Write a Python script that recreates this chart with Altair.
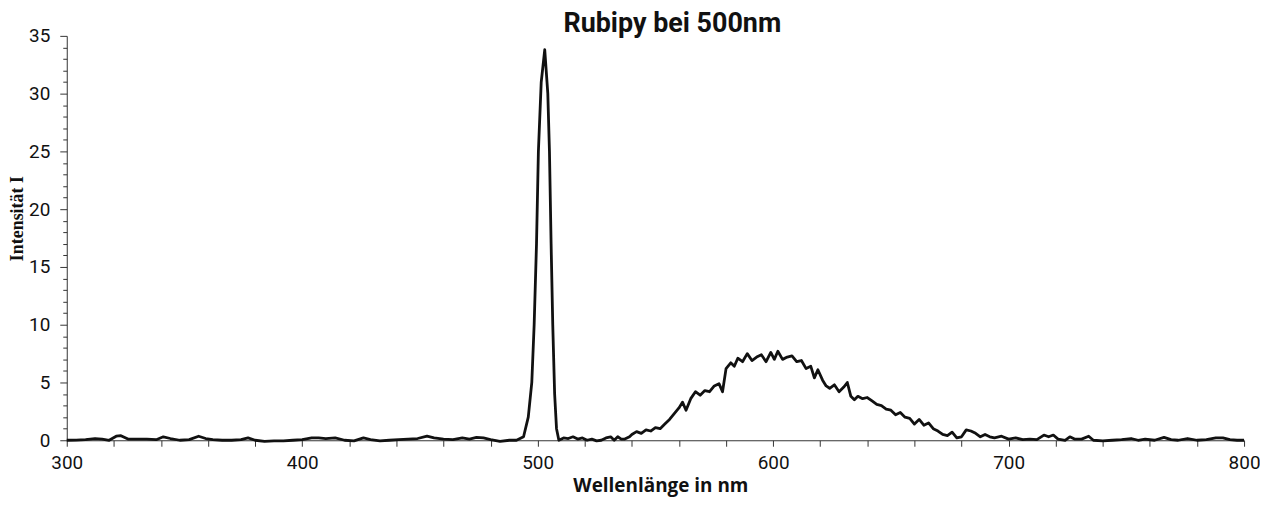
import altair as alt
import pandas as pd

# Wavelength (nm) and intensity
wavelength = [
    300, 304, 308, 312, 315, 318, 321, 323, 326, 330, 334, 338, 341, 344, 348,
    352, 356, 359, 362, 366, 370, 374, 377, 380, 384, 388, 392, 396, 400, 404,
    407, 410, 414, 418, 422, 426, 429, 433, 437, 441, 445, 449, 453, 456, 460,
    464, 468, 471, 474, 477, 480, 484, 488, 491,
    494, 496, 497.5, 498.5, 499.5, 500.3, 501.5, 503, 504.3, 505, 505.7,
    506.4, 507.2, 508, 509,
    511, 513, 515, 517, 519, 521, 523, 525, 527, 529, 531, 532.5, 534, 535.5,
    537, 539, 540, 542, 544, 546, 548, 550, 552, 554, 556, 558, 560, 561.5,
    563, 565, 567, 569, 571, 573, 575, 577, 578.5, 580, 582, 583.5, 585, 587,
    589, 591, 593, 595, 597, 599, 600.5, 602, 604, 606, 608, 610, 612, 614,
    616, 617.5, 619, 621, 622.5, 624, 626, 628, 630, 631.5, 633, 634.5, 636,
    638, 640, 642, 644, 646, 648, 650, 652, 654, 656, 658, 660, 662, 664, 666,
    668, 670, 672, 674, 676, 678, 680, 682, 684, 686, 688, 690, 692, 694, 697,
    700, 703, 706, 709, 712, 715, 717, 719, 721, 724, 726, 728, 731, 734, 736,
    740, 744, 748, 752, 755, 758, 762, 766, 769, 772, 776, 780, 784, 788, 791,
    794, 797, 800,
]
intensity = [
    0.0, 0.02, 0.05, 0.15, 0.1, 0.0, 0.35, 0.4, 0.1, 0.1, 0.1, 0.05, 0.3, 0.15, 0.0,
    0.05, 0.35, 0.15, 0.05, 0.0, 0.0, 0.05, 0.2, 0.0, -0.1, -0.05, -0.05, 0.0, 0.05, 0.2,
    0.2, 0.15, 0.2, 0.0, -0.05, 0.2, 0.05, -0.05, 0.0, 0.05, 0.1, 0.15, 0.35, 0.2, 0.1,
    0.05, 0.2, 0.1, 0.25, 0.2, 0.05, -0.1, 0.0, 0.0,
    0.3, 2.0, 5.0, 10.0, 17.0, 25.0, 31.0, 33.8, 30.0, 25.0, 17.0,
    10.0, 4.0, 1.0, 0.0,
    0.2, 0.15, 0.3, 0.1, 0.2, 0.0, 0.1, -0.05, 0.0, 0.2, 0.3, 0.0, 0.3, 0.1,
    0.1, 0.3, 0.5, 0.75, 0.6, 0.9, 0.8, 1.1, 1.0, 1.4, 1.8, 2.3, 2.8, 3.3,
    2.6, 3.6, 4.2, 3.9, 4.3, 4.2, 4.7, 4.9, 4.2, 6.2, 6.7, 6.4, 7.1, 6.8,
    7.5, 6.9, 7.2, 7.4, 6.8, 7.6, 7.0, 7.7, 7.0, 7.2, 7.3, 6.8, 6.9, 6.2,
    6.4, 5.4, 6.1, 5.2, 4.7, 4.5, 4.8, 4.2, 4.6, 5.0, 3.8, 3.5, 3.8,
    3.6, 3.7, 3.4, 3.1, 3.0, 2.7, 2.6, 2.2, 2.4, 2.0, 1.9, 1.4, 1.8, 1.3, 1.5,
    1.0, 0.8, 0.5, 0.4, 0.7, 0.2, 0.3, 0.9, 0.8, 0.6, 0.3, 0.5, 0.3, 0.2, 0.35,
    0.1, 0.2, 0.05, 0.1, 0.05, 0.45, 0.3, 0.45, 0.1, 0.0, 0.3, 0.1, 0.1, 0.35, 0.0,
    -0.05, 0.0, 0.05, 0.15, 0.0, 0.1, 0.0, 0.25, 0.05, 0.0, 0.15, 0.0, 0.05, 0.2, 0.2,
    0.05, 0.0, 0.0,
]

x_major = [300, 400, 500, 600, 700, 800]
x_ticks = list(range(300, 801, 20))
y_ticks = list(range(0, 36, 1))

df = pd.DataFrame({"wl": wavelength, "I": intensity})

label_font = "Roboto"
axis_color = "#333333"

chart = (
    alt.Chart(df)
    .mark_line(color="#111111", strokeWidth=2.8, strokeJoin="round")
    .encode(
        x=alt.X(
            "wl:Q",
            scale=alt.Scale(domain=[300, 800], nice=False, zero=False),
            axis=alt.Axis(
                title="Wellenlänge in nm",
                values=x_ticks,
                labelExpr="indexof([300,400,500,600,700,800], datum.value) >= 0 ? datum.label : ''",
                labelOverlap=False,
                labelFlush=False,
                grid=False,
                tickSize=6,
                tickColor=axis_color,
                domainColor=axis_color,
                labelFont=label_font,
                labelFontSize=19,
                labelColor="#111111",
                labelPadding=7,
                titleFont="Open Sans",
                titleFontWeight="bold",
                titleFontSize=19,
                titleColor="#111111",
                titleX=596,
                titleY=51,
                titleBaseline="alphabetic",
            ),
        ),
        y=alt.Y(
            "I:Q",
            scale=alt.Scale(domain=[0, 35], nice=False),
            axis=alt.Axis(
                title="Intensität I",
                values=y_ticks,
                labelExpr="datum.value % 5 === 0 ? datum.label : ''",
                labelOverlap=False,
                labelFlush=False,
                grid=False,
                tickSize={"condition": {"test": "datum.value % 5 === 0", "value": 7}, "value": 4},
                tickColor=axis_color,
                domainColor=axis_color,
                labelFont=label_font,
                labelFontSize=19,
                labelColor="#111111",
                labelPadding=10,
                titleFont="Liberation Serif",
                titleFontWeight="bold",
                titleFontSize=18,
                titleColor="#111111",
                titleX=-49,
                titleY=183,
                titleAlign="center",
                titleBaseline="middle",
                titleAngle=270,
            ),
        ),
    )
    .properties(
        width=1182,
        height=406,
        autosize=alt.AutoSizeParams(type="none"),
        padding={"left": 59, "top": 27, "right": 16, "bottom": 57},
        title=alt.TitleParams(
            text="Rubipy bei 500nm",
            font="Roboto",
            fontWeight="bold",
            fontSize=27,
            color="#111111",
            anchor="middle",
            dx=17,
            dy=32,
            baseline="alphabetic",
            offset=0,
        ),
    )
    .configure_view(stroke=None)
)

chart.save("out.html", embed_options={"renderer": "svg", "actions": False})
